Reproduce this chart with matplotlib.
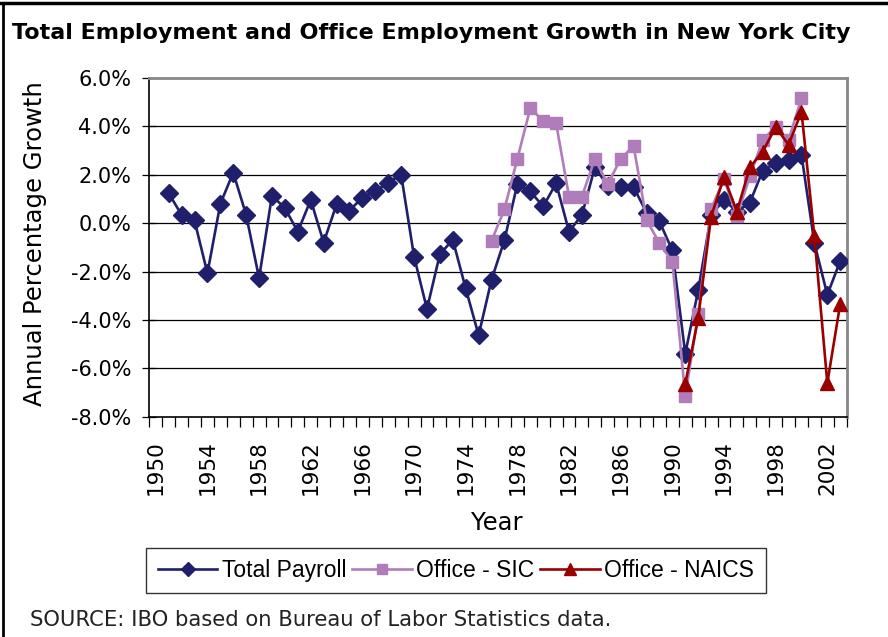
import numpy as np
import matplotlib
matplotlib.use("Agg")
import matplotlib.pyplot as plt
from matplotlib.lines import Line2D

# ---- data ----
total_years = list(range(1951, 2004))
total_payroll = [1.24, 0.34, 0.11, -2.07, 0.80, 2.09, 0.34, -2.27, 1.14, 0.62,
                 -0.35, 0.96, -0.80, 0.78, 0.52, 1.06, 1.31, 1.68, 2.01, -1.38,
                 -3.55, -1.28, -0.69, -2.70, -4.63, -2.34, -0.70, 1.62, 1.31, 0.69,
                 1.65, -0.35, 0.34, 2.31, 1.54, 1.49, 1.49, 0.44, 0.07, -1.13,
                 -5.40, -2.78, 0.34, 0.96, 0.48, 0.85, 2.17, 2.50, 2.62, 2.82,
                 -0.83, -2.96, -1.56]
sic_years = list(range(1976, 2001))
office_sic = [-0.73, 0.58, 2.66, 4.75, 4.23, 4.13, 1.10, 1.10, 2.66, 1.61,
              2.66, 3.19, 0.14, -0.83, -1.59, -7.14, -3.76, 0.59, 1.82, 0.30,
              1.93, 3.44, 3.99, 3.44, 5.17]
naics_years = list(range(1991, 2004))
office_naics = [-6.64, -3.93, 0.27, 1.90, 0.48, 2.31, 2.96, 3.97, 3.24, 4.61,
                -0.55, -6.61, -3.33]
year_labels = list(range(1950, 2003, 4))
y_ticks = [-8, -6, -4, -2, 0, 2, 4, 6]

NAVY = "#1f1f6b"
LAV = "#b07cb9"
RED = "#990000"

fig = plt.figure(figsize=(8.88, 6.37), dpi=100)
W, H = 888, 637
ax = fig.add_axes([149.3 / W, 1 - 416.7 / H, (846.7 - 149.3) / W, (416.7 - 78) / H])

ax.plot(total_years, total_payroll, color=NAVY, lw=1.9, marker="D", ms=9,
        mfc=NAVY, mec=NAVY, label="Total Payroll", zorder=3)
ax.plot(sic_years, office_sic, color=LAV, lw=1.9, marker="s", ms=9,
        mfc=LAV, mec=LAV, label="Office - SIC", zorder=4)
ax.plot(naics_years, office_naics, color=RED, lw=1.9, marker="^", ms=10,
        mfc=RED, mec=RED, label="Office - NAICS", zorder=5)

ax.set_xlim(1949.5, 2003.5)
ax.set_ylim(-8, 6)
for yv in y_ticks[1:-1]:
    ax.axhline(yv, color="black", lw=0.9, zorder=1)

ax.set_yticks(y_ticks)
ax.set_yticklabels([f"{v:.1f}%" for v in y_ticks], fontsize=15)
ax.tick_params(axis="y", direction="inout", length=10, width=0.9, pad=8)

ax.set_xticks(year_labels)
ax.set_xticklabels([str(y) for y in year_labels], rotation=90, fontsize=15.5)
ax.set_xticks(np.arange(1949.5, 2004, 1), minor=True)
ax.tick_params(axis="x", which="major", length=0, pad=17)
ax.tick_params(axis="x", which="minor", direction="out", length=7, width=0.9)

for s in ["left", "bottom"]:
    ax.spines[s].set_color("black")
    ax.spines[s].set_linewidth(1.2)
for s in ["top", "right"]:
    ax.spines[s].set_color("#888888")
    ax.spines[s].set_linewidth(2)

ax.set_xlabel("Year", fontsize=17.5)
ax.xaxis.set_label_coords(0.4986, -0.314)
ax.set_ylabel("Annual Percentage Growth", fontsize=17.5)
ax.yaxis.set_label_coords(-0.164, 0.51)
ax.yaxis.label.set_va("center")
ax.xaxis.label.set_va("center")

fig.text(12 / W, 1 - 33 / H, "Total Employment and Office Employment Growth in New York City",
         fontsize=16.0, fontweight="bold", va="center", ha="left")

leg = fig.legend(loc="center", bbox_to_anchor=(456 / W, 1 - 570.5 / H), ncol=3,
                 frameon=True, fancybox=False, edgecolor="black",
                 handlelength=2.6, columnspacing=0.25, handletextpad=0.2,
                 borderpad=0.5, markerscale=0.8,
                 prop={"family": "Liberation Sans", "size": 16.5})
leg.get_frame().set_linewidth(1)

fig.text(30 / W, 1 - 620 / H, "SOURCE: IBO based on Bureau of Labor Statistics data.",
         fontsize=15.2, va="center", ha="left", color="#222222")

# outer frame (top and left edges)
fig.add_artist(Line2D([0, 1], [1 - 3 / H, 1 - 3 / H], transform=fig.transFigure,
                      color="black", lw=2.5))
fig.add_artist(Line2D([3 / W, 3 / W], [0, 1 - 3 / H], transform=fig.transFigure,
                      color="black", lw=2))

fig.savefig("out.png", dpi=100)
